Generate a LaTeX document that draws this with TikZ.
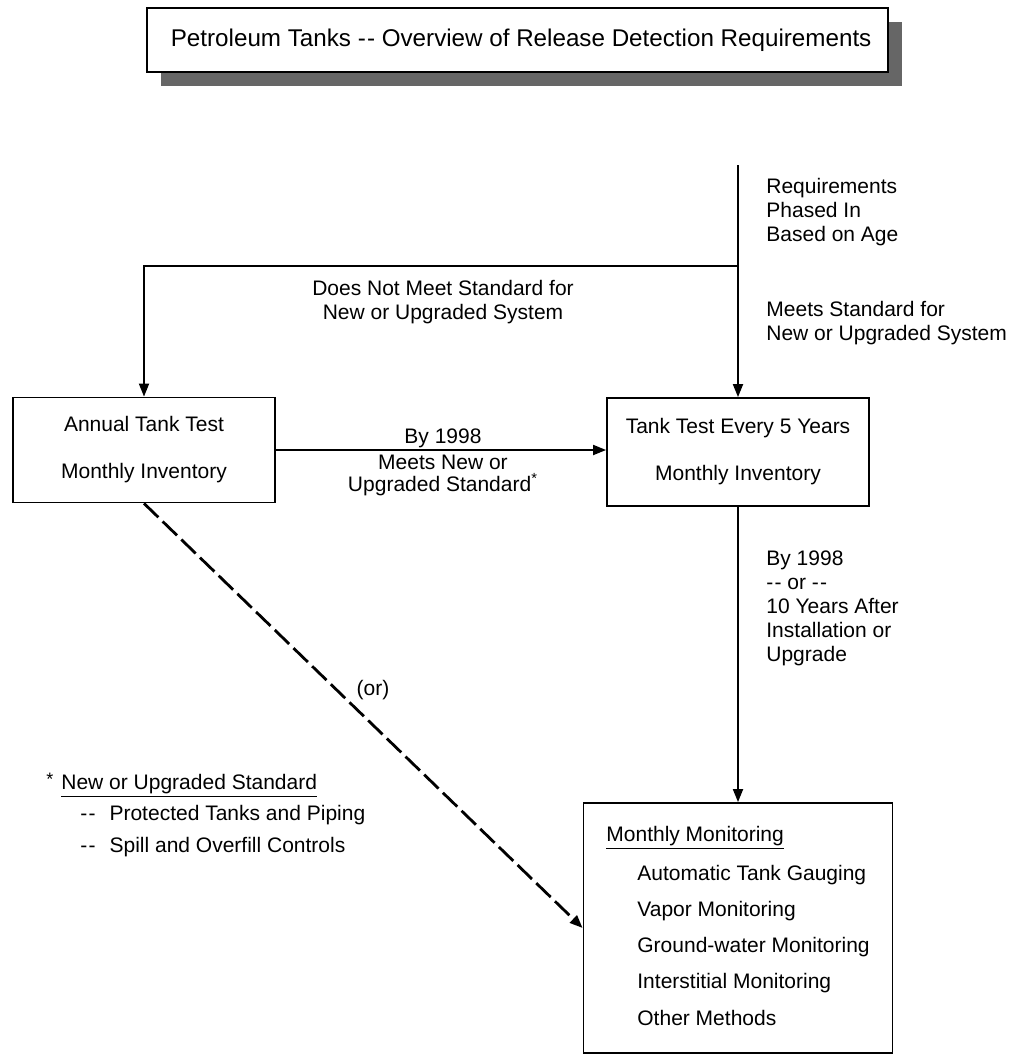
\documentclass[tikz,border=0pt]{standalone}
\usepackage{fontspec}
\setmainfont{Liberation Sans}
\usetikzlibrary{arrows.meta,shadows}
\newcommand{\dashpair}{-\kern0.6pt-}

\begin{document}
\begin{tikzpicture}[
  x=0.5pt, y=-0.5pt,
  font=\fontsize{10.5}{12}\selectfont,
  box/.style={draw, line width=0.9pt, inner sep=0pt, align=center},
  titlebox/.style={box, fill=white, font=\fontsize{12.1}{14}\selectfont,
    drop shadow={shadow xshift=7pt, shadow yshift=-7pt, fill=black!60, opacity=1}},
  lbl/.style={inner sep=0pt, align=left, anchor=west},
  clbl/.style={inner sep=0pt, align=center},
  arrow/.style={-{Triangle[length=6.5pt, width=5pt]}, line width=0.9pt},
  orline/.style={arrow, line width=1.4pt, dash pattern=on 10pt off 3pt}
]
\useasboundingbox (0,0) rectangle (1011,1055);

\node[titlebox, minimum width=370.5pt, minimum height=32pt] (title) at (517.5,40) {
  \hspace*{7pt}Petroleum Tanks \dashpair\ Overview of Release Detection Requirements
};

\node[box, minimum width=131pt, minimum height=52.5pt] (annual) at (144,450) {
  Annual Tank Test\\[11.5pt]
  Monthly Inventory
};
\node[box, minimum width=131pt, minimum height=54pt] (tank5) at (738,452) {
  Tank Test Every 5 Years\\[11.5pt]
  Monthly Inventory
};
\node[box, minimum width=154.5pt, minimum height=125pt] (mon) at (738,928) {};

\node[lbl] (monhead) at (606,838) {\underline{Monthly Monitoring}};
\node[lbl] (atg) at (637,875) {Automatic Tank Gauging};
\node[lbl] (vapor) at (637,911) {Vapor Monitoring};
\node[lbl] (ground) at (637,947) {Ground-water Monitoring};
\node[lbl] (inter) at (637,983) {Interstitial Monitoring};
\node[lbl] (other) at (637,1018) {Other Methods};

\node[lbl] (phased) at (766,212) {
  Requirements\\
  Phased In\\
  Based on Age
};
\node[lbl] (meets) at (766,323.5) {
  Meets Standard for\\
  New or Upgraded System
};
\node[lbl] (deadline) at (766,608.5) {
  By 1998\\
  \dashpair\ or \dashpair\\
  10 Years After\\
  Installation or\\
  Upgrade
};
\node[clbl] (notmeet) at (443,302) {
  Does Not Meet Standard for\\
  New or Upgraded System
};
\node[clbl] (by98) at (443,438) {By 1998};
\node[clbl] (upgr) at (443,475) {
  Meets New or\\[-1pt]
  Upgraded Standard\textsuperscript{*}
};
\node[clbl] (ornote) at (373,690) {(or)};

\node[lbl] (fnhead) at (46,785) {\raisebox{2pt}{\small *}\hspace{4pt}\underline{New or Upgraded Standard}};
\node[lbl] (fnpipe) at (80,815) {\dashpair\hspace{7pt}Protected Tanks and Piping};
\node[lbl] (fnspill) at (80,847) {\dashpair\hspace{7pt}Spill and Overfill Controls};

\coordinate (start) at (738,165);
\coordinate (split) at (738,266);

\draw[arrow] (start) -- (tank5.north);
\draw[arrow] (split) -| (annual.north);
\draw[arrow] (annual.east) -- (annual.east -| tank5.west);
\draw[arrow] (tank5.south) -- (mon.north);
\draw[orline] (annual.south) -- (mon.west);

\end{tikzpicture}
\end{document}
